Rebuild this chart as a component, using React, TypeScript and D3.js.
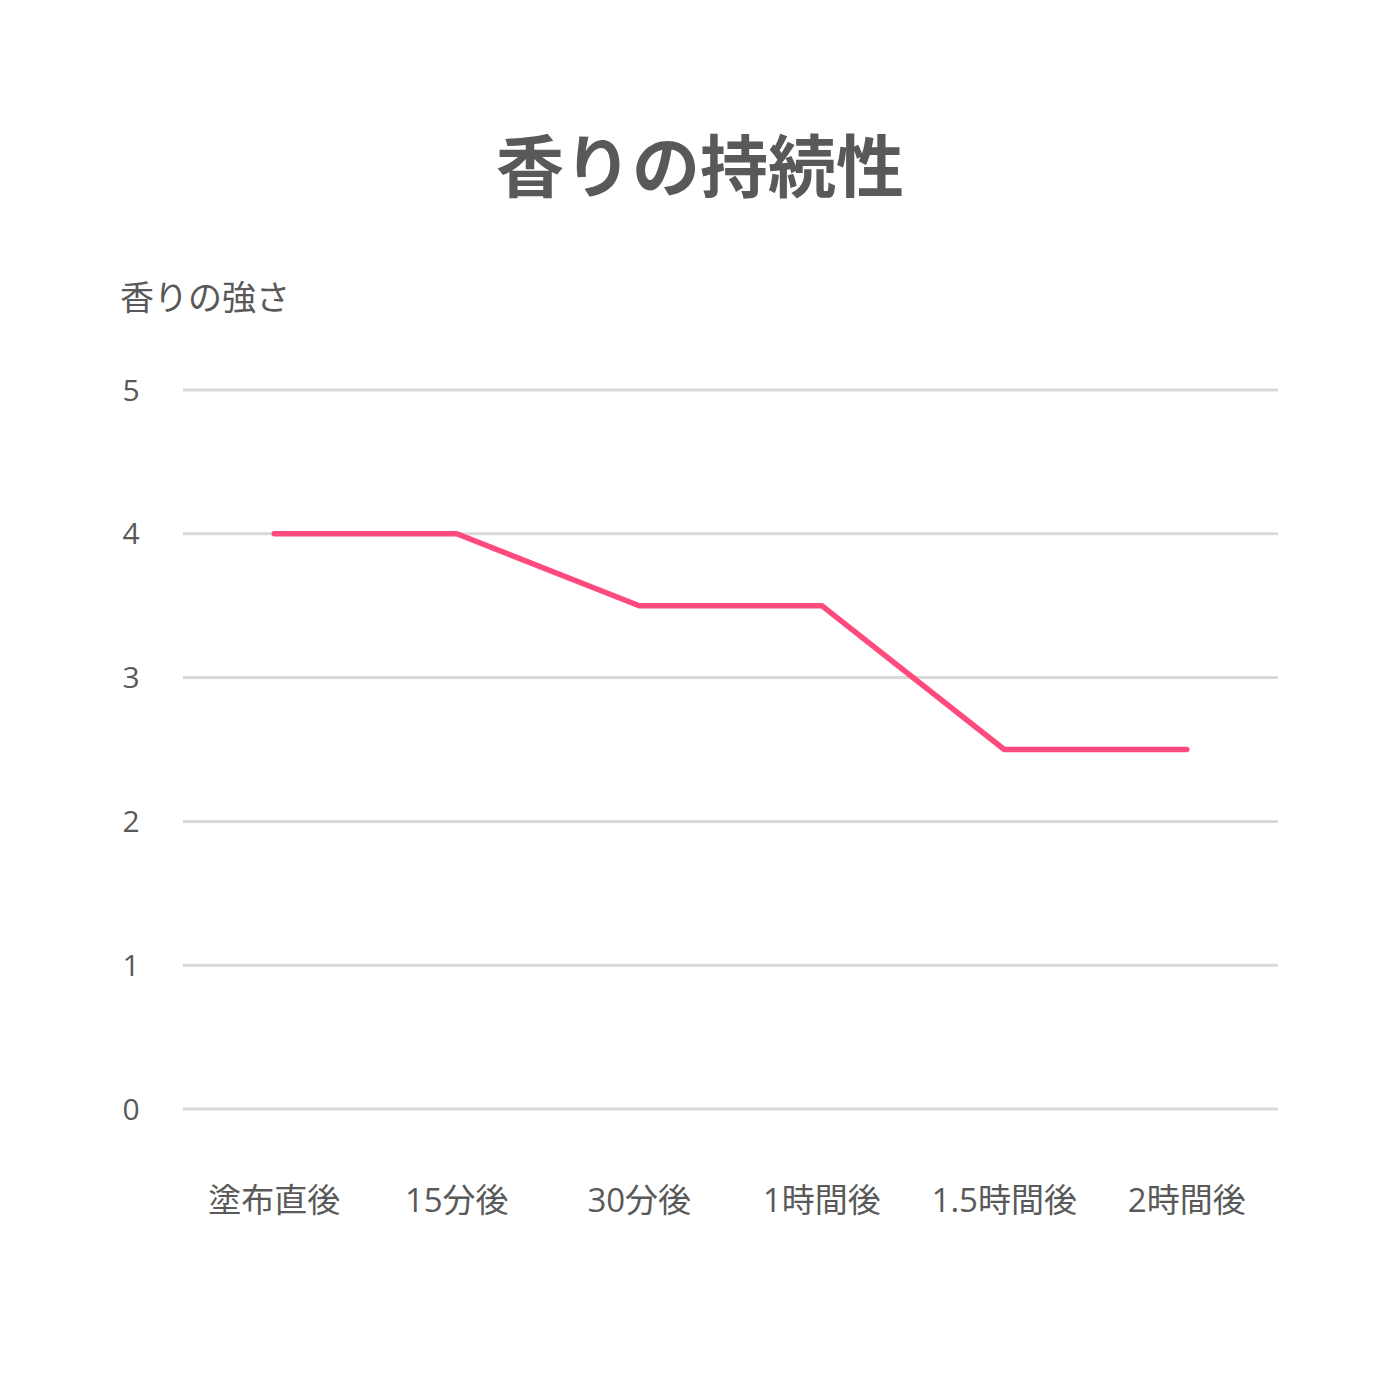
import * as d3 from "d3";
import { useEffect, useRef } from "react";

const categories = ["塗布直後", "15分後", "30分後", "1時間後", "1.5時間後", "2時間後"];
const strength = [4, 4, 3.5, 3.5, 2.5, 2.5];
const yTicks = [0, 1, 2, 3, 4, 5];

const title = "香りの持続性";
const yLabel = "香りの強さ";

const App = () => {
    const svgRef = useRef(null);

    const width = 1400;
    const height = 1400;
    const marginTop = 390;
    const marginRight = 122;
    const marginBottom = 291;
    const marginLeft = 183;
    const font = "'Open Sans', 'Noto Sans CJK JP', sans-serif";
    const textColor = "#595959";

    useEffect(() => {
        document.body.style.margin = "0";
        const svg = d3.select(svgRef.current);
        svg.selectAll("*").remove();

        svg.attr("width", width).attr("height", height).style("display", "block");

        svg.append("rect").attr("width", width).attr("height", height).attr("fill", "#fff");

        // x軸 (カテゴリ)
        const x = d3
            .scaleBand()
            .domain(categories)
            .range([marginLeft, width - marginRight]);

        // y軸 (強さ)
        const y = d3
            .scaleLinear()
            .domain([0, 5])
            .range([height - marginBottom, marginTop]);

        // グリッド線
        svg.append("g")
            .selectAll("line")
            .data(yTicks)
            .enter()
            .append("line")
            .attr("x1", marginLeft)
            .attr("x2", width - marginRight)
            .attr("y1", d => y(d))
            .attr("y2", d => y(d))
            .attr("stroke", "#d9d9d9")
            .attr("stroke-width", 3);

        // y目盛り
        svg.append("g")
            .selectAll("text")
            .data(yTicks)
            .enter()
            .append("text")
            .attr("x", 131)
            .attr("y", d => y(d))
            .attr("dy", "0.35em")
            .attr("text-anchor", "middle")
            .attr("font-family", font)
            .attr("font-size", 30)
            .attr("fill", textColor)
            .text(d => d);

        // x目盛り
        svg.append("g")
            .selectAll("text")
            .data(categories)
            .enter()
            .append("text")
            .attr("x", d => x(d)! + x.bandwidth() / 2)
            .attr("y", 1200)
            .attr("dy", "0.35em")
            .attr("text-anchor", "middle")
            .attr("font-family", font)
            .attr("font-size", 33)
            .attr("fill", textColor)
            .text(d => d);

        // 折れ線
        const line = d3
            .line<number>()
            .x((_d, i) => x(categories[i])! + x.bandwidth() / 2)
            .y(d => y(d));

        svg.append("path")
            .datum(strength)
            .attr("fill", "none")
            .attr("stroke", "#ff4a7d")
            .attr("stroke-width", 5.5)
            .attr("stroke-linecap", "round")
            .attr("stroke-linejoin", "round")
            .attr("d", line);

        // タイトル
        svg.append("text")
            .attr("x", 700)
            .attr("y", 168)
            .attr("dy", "0.35em")
            .attr("text-anchor", "middle")
            .attr("font-family", font)
            .attr("font-weight", "bold")
            .attr("font-size", 68)
            .attr("fill", textColor)
            .text(title);

        // y軸ラベル
        svg.append("text")
            .attr("x", 120)
            .attr("y", 298)
            .attr("dy", "0.35em")
            .attr("text-anchor", "start")
            .attr("font-family", font)
            .attr("font-size", 34)
            .attr("fill", textColor)
            .text(yLabel);
    }, []);

    return <svg ref={svgRef}></svg>;
};

export default App;
